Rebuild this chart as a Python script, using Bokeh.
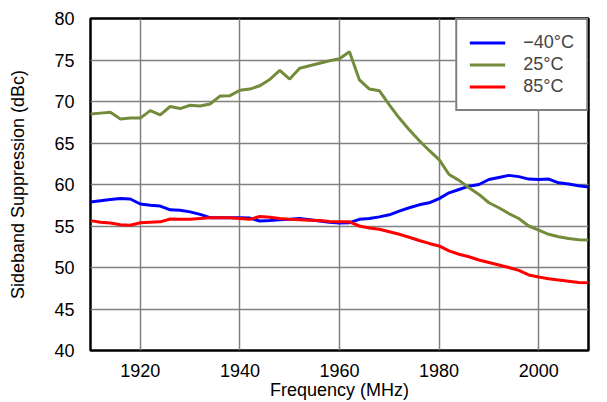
from bokeh.plotting import figure
from bokeh.models import FixedTicker, Legend, LegendItem, Range1d
from bokeh.embed import file_html
from bokeh.resources import INLINE

freq = list(range(1910, 2011, 2))

m40 = [57.9, 58.05, 58.2, 58.3, 58.25, 57.65, 57.5, 57.4, 56.95, 56.9,
       56.7, 56.4, 56.0, 56.0, 56.0, 56.0, 55.95, 55.6, 55.65, 55.75,
       55.8, 55.9, 55.75, 55.6, 55.45, 55.35, 55.4, 55.8, 55.9, 56.1,
       56.35, 56.8, 57.2, 57.55, 57.8, 58.3, 59.0, 59.4, 59.8, 60.0,
       60.6, 60.85, 61.1, 60.95, 60.65, 60.6, 60.65, 60.2, 60.05, 59.85, 59.7]

p25 = [68.5, 68.6, 68.7, 67.9, 68.0, 68.0, 68.9, 68.4, 69.4, 69.15,
       69.55, 69.45, 69.7, 70.65, 70.7, 71.35, 71.5, 71.9, 72.65, 73.75,
       72.7, 74.0, 74.3, 74.6, 74.9, 75.15, 76.0, 72.6, 71.5, 71.3,
       69.6, 68.0, 66.6, 65.3, 64.1, 63.0, 61.2, 60.5, 59.6, 58.8,
       57.8, 57.2, 56.5, 55.9, 55.0, 54.5, 54.0, 53.7, 53.5, 53.35, 53.3]

p85 = [55.65, 55.45, 55.35, 55.15, 55.1, 55.4, 55.45, 55.5, 55.85, 55.8,
       55.8, 55.9, 56.0, 56.0, 56.0, 55.9, 55.8, 56.15, 56.05, 55.9,
       55.8, 55.75, 55.7, 55.65, 55.55, 55.5, 55.5, 55.0, 54.75, 54.6,
       54.3, 54.0, 53.65, 53.25, 52.9, 52.6, 52.0, 51.6, 51.3, 50.9,
       50.6, 50.3, 50.0, 49.65, 49.1, 48.85, 48.65, 48.5, 48.35, 48.2, 48.15]

series_labels = ["\u221240\u00b0C", "25\u00b0C", "85\u00b0C"]
series_colors = ["#0000ff", "#728c3c", "#ff0000"]
x_ticks = [1920, 1940, 1960, 1980, 2000]
y_ticks = [40, 45, 50, 55, 60, 65, 70, 75, 80]

FONT = "Liberation Sans"

p = figure(width=600, height=402, output_backend="svg", toolbar_location=None,
           x_range=Range1d(1910, 2010), y_range=Range1d(40, 80),
           min_border_left=90, min_border_right=12, min_border_top=18,
           min_border_bottom=50)

p.outline_line_color = "black"
p.outline_line_width = 2.5

for ax in (p.xaxis[0], p.yaxis[0]):
    ax.axis_line_color = None
    ax.major_tick_line_color = None
    ax.minor_tick_line_color = None
    ax.major_label_text_font = FONT
    ax.major_label_text_font_size = "18px"
    ax.major_label_text_color = "black"
    ax.axis_label_text_font = FONT
    ax.axis_label_text_font_size = "18px"
    ax.axis_label_text_font_style = "normal"
    ax.axis_label_text_color = "black"

p.xaxis.ticker = FixedTicker(ticks=x_ticks)
p.yaxis.ticker = FixedTicker(ticks=y_ticks)
p.xaxis.axis_label = "Frequency (MHz)"
p.yaxis.axis_label = "Sideband Suppression (dBc)"
p.xaxis.major_label_standoff = 7
p.yaxis.major_label_standoff = 10
p.xaxis.axis_label_standoff = 0
p.yaxis.axis_label_standoff = 23

p.xgrid.ticker = FixedTicker(ticks=x_ticks)
p.ygrid.ticker = FixedTicker(ticks=y_ticks)
for g in (p.xgrid[0], p.ygrid[0]):
    g.grid_line_color = "#808080"
    g.grid_line_width = 1.5
    g.grid_line_alpha = 1.0

items = []
for ys, lab, col in zip([m40, p25, p85], series_labels, series_colors):
    r = p.line(freq, ys, line_color=col, line_width=3)
    items.append(LegendItem(label=lab, renderers=[r]))

legend = Legend(items=items, location="top_right")
legend.margin = 0
legend.padding = 12
legend.spacing = 1
legend.border_line_color = "black"
legend.border_line_width = 2
legend.label_text_font = FONT
legend.label_text_font_size = "18px"
legend.label_height = 21
legend.glyph_height = 21
legend.glyph_width = 36
legend.label_standoff = 18
legend.background_fill_alpha = 1.0
p.add_layout(legend, "center")

open("out.html", "w").write(file_html(p, INLINE))
